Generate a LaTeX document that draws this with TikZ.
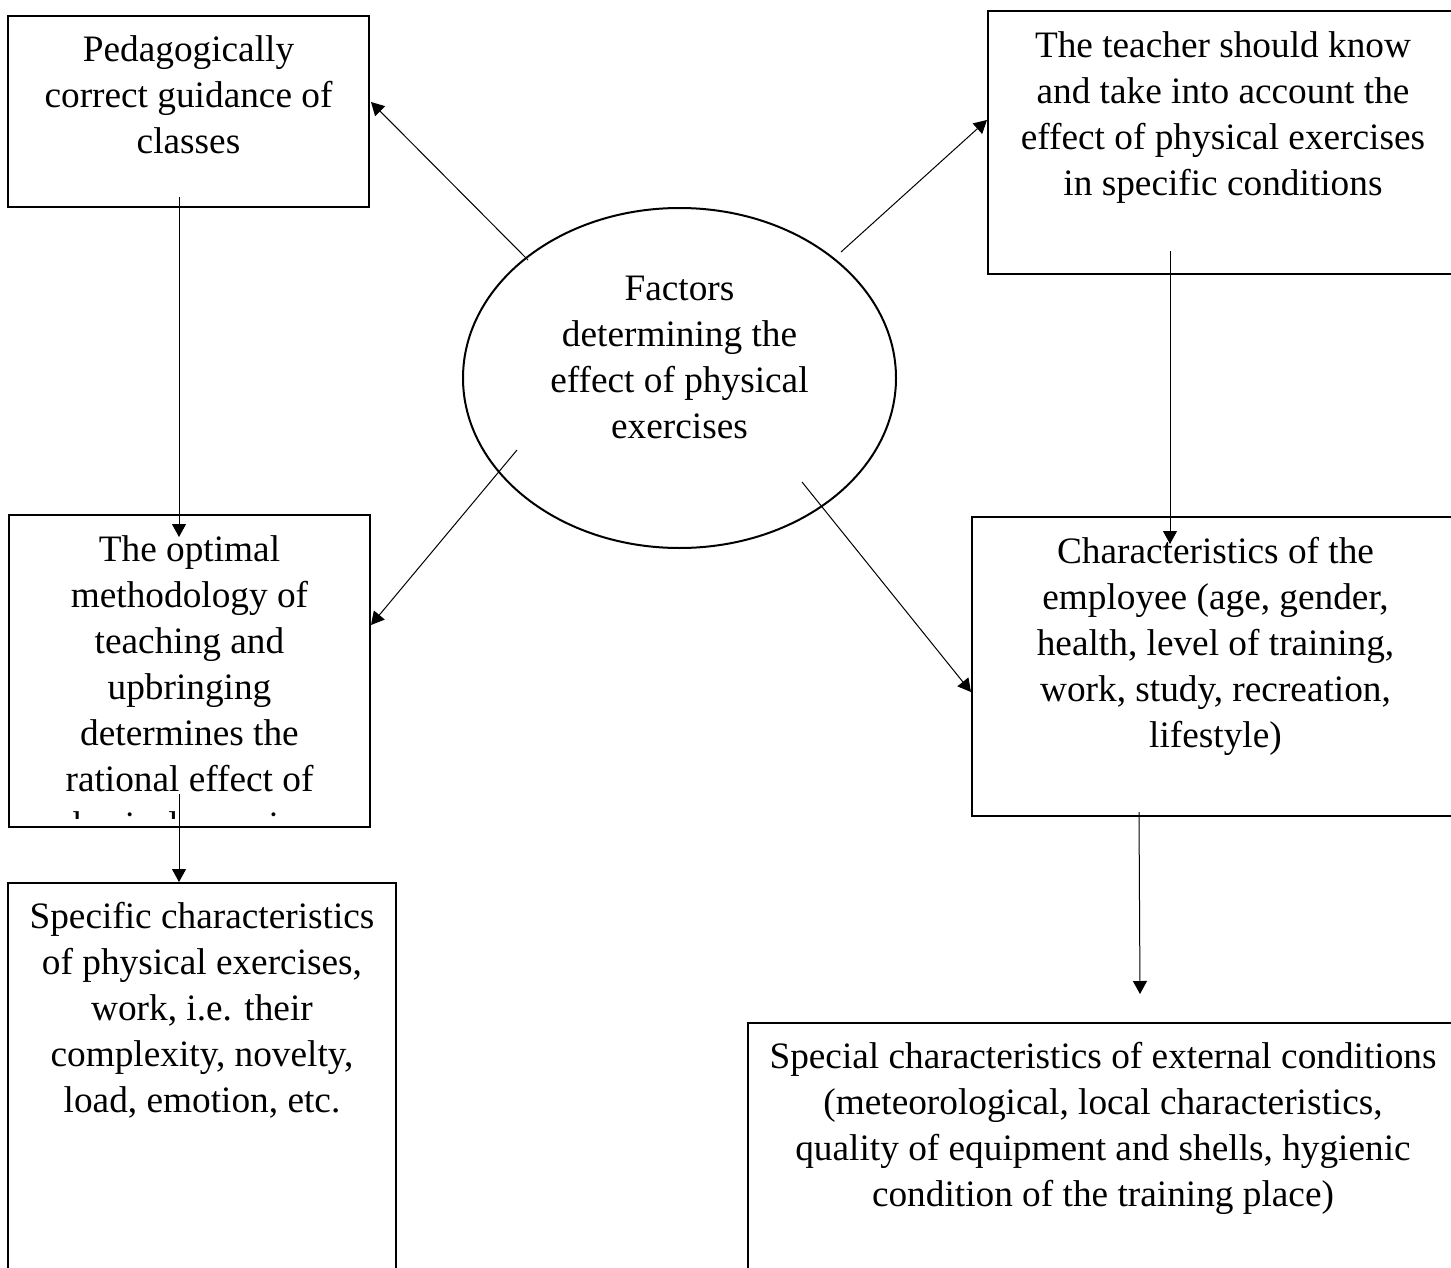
\documentclass[tikz,border=0pt]{standalone}
\usepackage{fontspec}
\setmainfont{Liberation Serif}
\usetikzlibrary{arrows.meta,calc,shapes.geometric}
\newcommand\firststrut{\rule{0pt}{14pt}}
\begin{document}
\begin{tikzpicture}[x=0.5pt,y=-0.5pt,
  boxnode/.style={draw, line width=1pt, rectangle, inner sep=0pt},
  ellnode/.style={draw, line width=1pt, ellipse, inner sep=0pt},
  txt/.style={anchor=north, align=center, inner sep=0pt, font=\fontsize{18.65}{23}\selectfont},
  conn/.style={line width=0.5pt, -{Triangle[length=6.5pt,width=7pt]}}]
\useasboundingbox (0,0) rectangle (1451,1268);

% boxes
\node[boxnode, minimum width=180.5pt, minimum height=95.5pt] (A) at (188.5,111.5) {};
\node[boxnode, minimum width=235pt, minimum height=131.5pt] (B) at (1223,142.5) {};
\node[boxnode, minimum width=180.5pt, minimum height=156pt] (C) at (189.5,671) {};
\node[boxnode, minimum width=194pt, minimum height=203.5pt] (D) at (202,1086.5) {};
\node[boxnode, minimum width=243.5pt, minimum height=149.5pt] (E) at (1215.5,666.5) {};
\node[boxnode, minimum width=355pt, minimum height=133.5pt] (F) at (1103,1156.5) {};
\node[ellnode, minimum width=216.5pt, minimum height=170pt] (ell) at (679.5,378) {};

% texts
\node[txt] (Atxt) at (188.5,33) {\firststrut Pedagogically\\correct guidance of\\classes};
\node[txt] (Btxt) at (1223,29) {\firststrut The teacher should know\\and take into account the\\effect of physical exercises\\in specific conditions};
\node[txt] (elltxt) at (679.5,272) {\firststrut Factors\\determining the\\effect of physical\\exercises};
\begin{scope}
  \clip (9,515) rectangle (370,818);
  \node[txt] (Ctxt) at (189.5,533) {\firststrut The optimal\\methodology of\\teaching and\\upbringing\\determines the\\rational effect of\\physical exercises};
\end{scope}
\node[txt] (Dtxt) at (202,900) {\firststrut Specific characteristics\\of physical exercises,\\work, i.e. their\\complexity, novelty,\\load, emotion, etc.};
\node[txt] (Etxt) at (1215.5,535) {\firststrut Characteristics of the\\employee (age, gender,\\health, level of training,\\work, study, recreation,\\lifestyle)};
\node[txt] (Ftxt) at (1103,1040) {\firststrut Special characteristics of external conditions\\(meteorological, local characteristics,\\quality of equipment and shells, hygienic\\condition of the training place)};

% connector end points
\coordinate (s1) at ($(ell.center)+(-151.5,-118)$);
\coordinate (s2) at ($(ell.center)+(161.5,-126)$);
\coordinate (s3) at ($(ell.center)+(-162.5,72)$);
\coordinate (s4) at ($(ell.center)+(122.5,104)$);
\coordinate (tA) at ($(A.east)+(1,-9.5)$);
\coordinate (tB) at ($(B.west)+(0,-22.5)$);
\coordinate (tC) at ($(C.east)+(0,-46)$);
\coordinate (tE) at ($(E.west)+(0,25.5)$);
\coordinate (ac1) at ($(A.south)+(-9.5,-11)$);
\coordinate (ac2) at ($(C.north)+(-10.5,23)$);
\coordinate (be1) at ($(B.south)+(-53,-24)$);
\coordinate (be2) at ($(E.north)+(-45.5,28)$);
\coordinate (cd1) at ($(C.south)+(-10.5,-34)$);
\coordinate (cd2) at ($(D.north)+(-23,0)$);
\coordinate (ef1) at ($(E.south)+(-76.5,-5)$);
\coordinate (ef2) at ($(F.north)+(37,-28)$);

% connectors
\draw[conn] (s1) -- (tA);
\draw[conn] (s2) -- (tB);
\draw[conn] (s3) -- (tC);
\draw[conn] (s4) -- (tE);
\draw[conn] (ac1) -- (ac2);
\draw[conn] (be1) -- (be2);
\draw[conn] (cd1) -- (cd2);
\draw[conn] (ef1) -- (ef2);
\end{tikzpicture}
\end{document}
